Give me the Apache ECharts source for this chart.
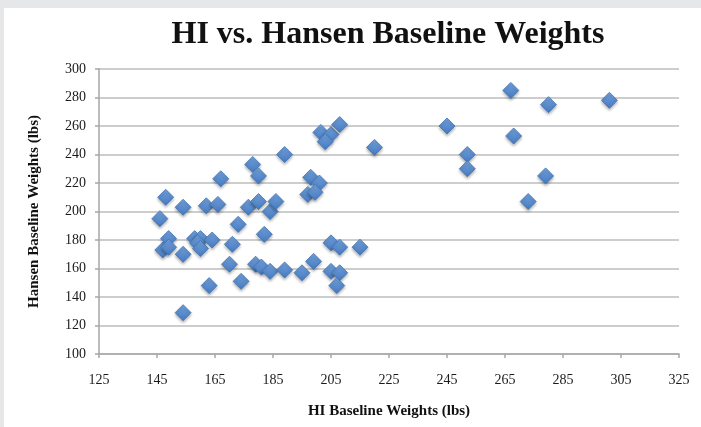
<!DOCTYPE html>
<html>
<head>
<meta charset="utf-8">
<script src="https://cdn.jsdelivr.net/npm/echarts@6/dist/echarts.min.js"></script>
<style>
  html, body { margin: 0; padding: 0; background: #e6e7e8; }
  #main { position: absolute; left: 4px; top: 8px; width: 697px; height: 419px; background: #ffffff; }
</style>
</head>
<body>
<div id="main"></div>
<script>
// HI baseline weight (x) vs Hansen baseline weight (y), lbs
var hiWeights = [
  146, 148, 147, 149, 149, 154, 154, 154, 158, 160,
  159, 160, 162, 166, 164, 163, 167, 170, 171, 173,
  174, 176.5, 178, 180, 180, 184, 186, 182, 179, 181,
  184, 189, 189, 195, 199, 198, 201, 197, 199.5, 201.5,
  205, 203, 208, 205, 208, 215, 205, 208, 207, 220,
  245, 252, 252, 267, 268, 280, 279, 273, 301
];
var hansenWeights = [
  195, 210, 173, 181, 175, 203, 170, 129, 181, 181,
  178, 174, 204, 205, 180, 148, 223, 163, 177, 191,
  151, 203, 233, 225, 207, 200, 207, 184, 163, 161,
  158, 159, 240, 157, 165, 224, 220, 212, 213.5, 255.5,
  254, 249, 261, 178, 175, 175, 158, 157, 148, 245,
  260, 240, 230, 285, 253, 275, 225, 207, 278
];
var xTicks = { min: 125, max: 325, interval: 20 };
var yTicks = { min: 100, max: 300, interval: 20 };

var points = [];
for (var i = 0; i < hiWeights.length; i++) {
  points.push([hiWeights[i], hansenWeights[i]]);
}

var serif = "'Liberation Serif', 'DejaVu Serif', serif";
var chart = echarts.init(document.getElementById("main"));
var option = {
  animation: false,
  title: {
    text: "HI vs. Hansen Baseline Weights",
    left: 379,
    textAlign: "center",
    top: 6,
    textStyle: { fontFamily: serif, fontWeight: "bold", fontSize: 32, color: "#111" }
  },
  grid: { left: 95, right: 22, top: 61, bottom: 73 },
  xAxis: {
    type: "value",
    min: xTicks.min,
    max: xTicks.max,
    interval: xTicks.interval,
    name: "HI Baseline Weights (lbs)",
    nameLocation: "middle",
    nameGap: 50,
    nameTextStyle: { fontFamily: serif, fontWeight: "bold", fontSize: 15, color: "#111" },
    axisLine: { lineStyle: { color: "#a6a6a6", width: 1.5 } },
    axisTick: { show: true, length: 4, lineStyle: { color: "#a6a6a6", width: 1.5 } },
    axisLabel: { fontFamily: serif, fontSize: 14, color: "#1a1a1a", margin: 19 },
    splitLine: { show: false }
  },
  yAxis: {
    type: "value",
    min: yTicks.min,
    max: yTicks.max,
    interval: yTicks.interval,
    name: "Hansen Baseline Weights (lbs)",
    nameLocation: "middle",
    nameGap: 57,
    nameTextStyle: { fontFamily: serif, fontWeight: "bold", fontSize: 15, color: "#111" },
    axisLine: { show: true, lineStyle: { color: "#a6a6a6", width: 1.5 } },
    axisTick: { show: true, length: 4, lineStyle: { color: "#a6a6a6", width: 1.5 } },
    axisLabel: { fontFamily: serif, fontSize: 14, color: "#1a1a1a", margin: 13 },
    splitLine: { lineStyle: { color: "#bdbdbd", width: 1.5 } }
  },
  series: [
    {
      type: "scatter",
      symbol: "diamond",
      symbolSize: 16,
      data: points,
      itemStyle: {
        color: new echarts.graphic.LinearGradient(0, 0, 0, 1, [
          { offset: 0, color: "#74a3de" },
          { offset: 1, color: "#4479bf" }
        ]),
        borderColor: "#4373b2",
        borderWidth: 0.8,
        opacity: 1,
        shadowBlur: 3,
        shadowOffsetY: 2,
        shadowColor: "rgba(0,0,0,0.3)"
      }
    }
  ]
};
chart.setOption(option);
</script>
</body>
</html>
